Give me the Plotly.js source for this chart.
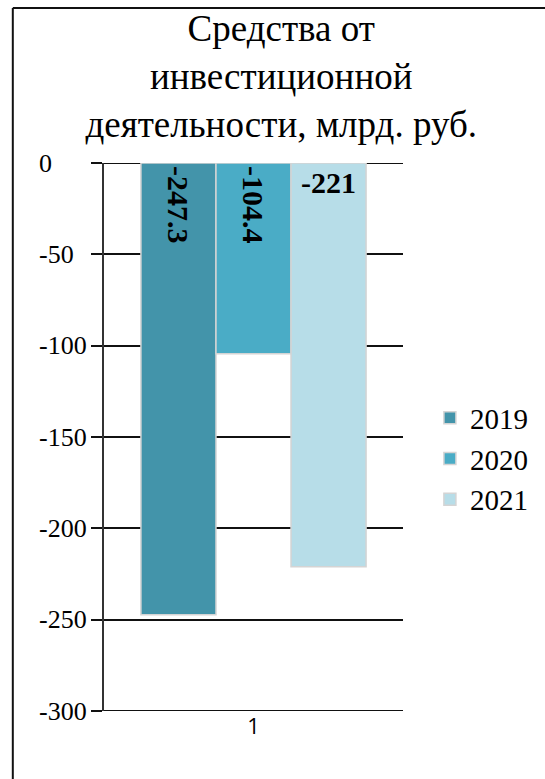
<!DOCTYPE html>
<html><head><meta charset="utf-8">
<script src="https://cdn.plot.ly/plotly-3.0.1.min.js"></script>
</head>
<body style="margin:0">
<div id="chart"></div>
<script>
const categories = ['1'];
const seriesNames = ['2019', '2020', '2021'];
const values2019 = [-247.3];
const values2020 = [-104.4];
const values2021 = [-221];
const seriesColors = ['#4394aa', '#4aacc6', '#b7dde8'];
const yTickVals = [0, -50, -100, -150, -200, -250, -300];
const yTickText = ['0', '-50', '-100', '-150', '-200', '-250', '-300'];
const titleText = 'Средства от<br>инвестиционной<br>деятельности, млрд. руб.';

const seriesValues = [values2019, values2020, values2021];
const serif = 'Liberation Serif';

const traces = seriesNames.map((name, i) => ({
  type: 'bar',
  name: name,
  x: categories,
  y: seriesValues[i],
  text: seriesValues[i].map(v => String(v)),
  textposition: 'inside',
  insidetextanchor: 'start',
  constraintext: 'none',
  textfont: {family: serif, size: 30, color: '#000', weight: 'bold'},
  marker: {color: seriesColors[i], line: {color: '#d4d4d4', width: 1.5}}
}));

const annotations = yTickVals.map((v, i) => ({
  xref: 'paper', yref: 'y', x: -0.225, y: v,
  xanchor: 'left', yanchor: 'middle',
  text: yTickText[i], showarrow: false,
  font: {family: serif, size: 26, color: '#000'}
}));

const shapes = [
  {type: 'line', xref: 'paper', yref: 'paper', x0: -0.305, x1: -0.305, y0: -0.2, y1: 1.2828,
   line: {color: '#111', width: 2}},
  {type: 'line', xref: 'paper', yref: 'paper', x0: -0.305, x1: 1.5, y0: 1.2828, y1: 1.2828,
   line: {color: '#111', width: 2}},
  {type: 'line', xref: 'paper', yref: 'y', x0: 0, x1: 1, y0: 0, y1: 0, layer: 'below',
   line: {color: '#111', width: 2}},
  {type: 'line', xref: 'paper', yref: 'y', x0: 0, x1: 1, y0: -300, y1: -300, layer: 'below',
   line: {color: '#111', width: 2}}
];

const layout = {
  width: 545, height: 779,
  margin: {l: 104, r: 133, t: 163, b: 68, pad: 0},
  title: {text: titleText, x: 0.516, xanchor: 'center', y: 0.947, yanchor: 'top',
          font: {family: serif, size: 37, color: '#000'}},
  barmode: 'group',
  bargap: 0.247,
  bargroupgap: 0,
  showlegend: true,
  legend: {x: 1.09, xanchor: 'left', y: 0.46, yanchor: 'middle',
           font: {family: serif, size: 29, color: '#000'}},
  xaxis: {showgrid: false, zeroline: false, tickfont: {size: 22, color: '#000'}},
  yaxis: {
    range: [-300, 0], tickvals: yTickVals, ticktext: yTickVals.map(() => ''),
    gridcolor: '#111', gridwidth: 2, zeroline: false,
    showline: true, linecolor: '#333', linewidth: 2,
    ticks: 'outside', ticklen: 11, tickwidth: 2, tickcolor: '#111'
  },
  shapes: shapes,
  annotations: annotations
};

Plotly.newPlot('chart', traces, layout, {staticPlot: true});
</script>
</body></html>
